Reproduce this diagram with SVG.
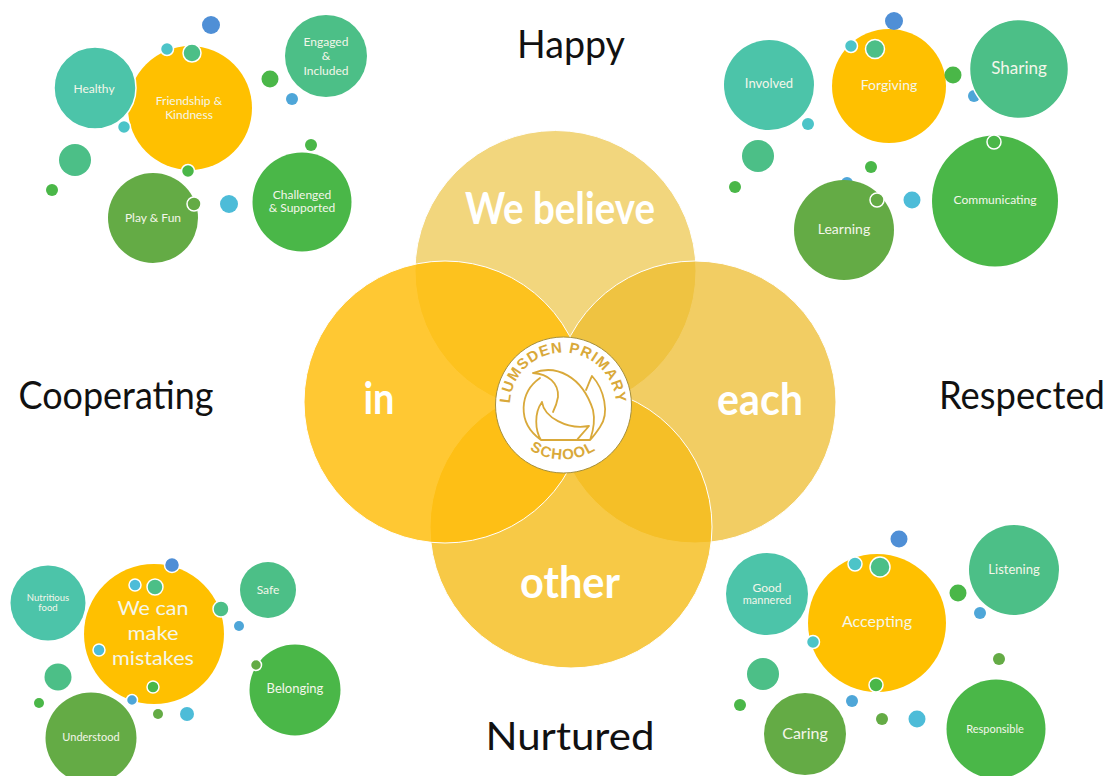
<svg xmlns="http://www.w3.org/2000/svg" xmlns:xlink="http://www.w3.org/1999/xlink" width="1113" height="776" viewBox="0 0 1113 776">
<style>
text{font-family:"Lato","Open Sans","Liberation Sans",sans-serif;text-anchor:middle}
.title{font-size:38px;fill:#111}
.big{font-size:44px;font-weight:700;fill:#fff}
.l{fill:#f4f6ea}
.s11{font-size:11px}.s12{font-size:12px}.s13{font-size:13px}.s14{font-size:14px}.s16{font-size:16px}.s17{font-size:17px}.s20{font-size:20px}
.w{stroke:#fff;stroke-width:1.5}
.or{fill:#ffc000}.t1{fill:#4cc4a9}.t2{fill:#4cbf87}.gr{fill:#4ab748}.ol{fill:#64ab45}.bl{fill:#4f8fd6}.b2{fill:#4ea6d8}.cy{fill:#4dbcd8}.c2{fill:#4cc4c8}
.v{stroke:#fff;stroke-width:1}
.logo{fill:none;stroke:#d9a93a;stroke-width:1.8;stroke-linejoin:round;stroke-linecap:round}
.lt{font-family:"Liberation Sans",Arial,sans-serif;font-size:15px;font-weight:700;fill:#d9a93a;letter-spacing:1px}
</style>
<defs>
<path id="arcTop" d="M512 420A53 53 0 1 1 614 420"/>
<path id="arcBot" d="M515 436A61 61 0 0 0 611 436"/>
</defs>
<rect width="1113" height="776" fill="#fff"/>

<g id="venn">
<circle id="v-top" class="v" cx="555.500" cy="271" r="140.500" fill="#ecc23f" fill-opacity=".68"/>
<circle id="v-right" class="v" cx="695" cy="402" r="141" fill="#eebc2c" fill-opacity=".74"/>
<circle id="v-bottom" class="v" cx="571" cy="527" r="141" fill="#f5bb18" fill-opacity=".8"/>
<circle id="v-left" class="v" cx="445" cy="402" r="141" fill="#ffbe0c" fill-opacity=".84"/>
<text class="big" x="560" y="224" textLength="190" lengthAdjust="spacingAndGlyphs">We believe</text>
<text class="big" x="379" y="414" textLength="31" lengthAdjust="spacingAndGlyphs">in</text>
<text class="big" x="760" y="415" textLength="86" lengthAdjust="spacingAndGlyphs">each</text>
<text class="big" x="570" y="598" textLength="100" lengthAdjust="spacingAndGlyphs">other</text>
</g>

<g id="logo">
<circle cx="563.500" cy="405" r="68" fill="#fff" stroke="#a58f3d" stroke-width="1"/>
<path class="logo" d="M533 373C556 364 582 376 593 410C596 424 592 434 590 440M533 373C548 374 559 383 558 397C557 403 555 408 553 412M540 378C520 392 516 422 541 440M542 402C534 413 535 430 541 440M542 402C544 417 567 430 589 426C584 432 580 436 577 440M541 440H590M592 376C589 382 588 386 586 390M592 376C604 389 610 413 600 427C596 433 593 437 590 440"/>
<text class="lt"><textPath xlink:href="#arcTop" href="#arcTop" startOffset="50%">LUMSDEN  PRIMARY</textPath></text>
<text class="lt"><textPath xlink:href="#arcBot" href="#arcBot" startOffset="50%">SCHOOL</textPath></text>
</g>

<g id="titles">
<text class="title" x="571" y="58" textLength="108" lengthAdjust="spacingAndGlyphs">Happy</text>
<text class="title" x="116" y="409" textLength="195" lengthAdjust="spacingAndGlyphs">Cooperating</text>
<text class="title" x="1022" y="409" textLength="166" lengthAdjust="spacingAndGlyphs">Respected</text>
<text class="title" x="570" y="750" textLength="169" lengthAdjust="spacingAndGlyphs">Nurtured</text>
</g>

<g id="cluster-top-left">
<circle class="or" cx="190" cy="108" r="62"/>
<circle class="t1 w" cx="95" cy="88" r="41"/>
<circle class="t2" cx="326" cy="56" r="41"/>
<circle class="gr" cx="302" cy="202" r="49.500"/>
<circle class="ol" cx="153" cy="218" r="45"/>
<circle class="bl" cx="211" cy="25" r="9"/>
<circle class="c2 w" cx="167" cy="49" r="6.500"/>
<circle class="t2 w" cx="192" cy="53" r="9"/>
<circle class="gr" cx="270" cy="79" r="8.500"/>
<circle class="b2" cx="292" cy="99" r="6"/>
<circle class="gr" cx="311" cy="145" r="6"/>
<circle class="c2 w" cx="124" cy="127" r="6.500"/>
<circle class="t2" cx="75" cy="160" r="16"/>
<circle class="gr" cx="52" cy="190" r="6"/>
<circle class="ol w" cx="194" cy="204" r="7"/>
<circle class="gr w" cx="188" cy="171" r="6.500"/>
<circle class="cy" cx="229" cy="204" r="9"/>
<text class="l s12" x="189" y="105">Friendship &amp;</text>
<text class="l s12" x="189" y="119">Kindness</text>
<text class="l s12" x="94" y="93">Healthy</text>
<text class="l s12" x="326" y="46">Engaged</text>
<text class="l s12" x="326" y="60">&amp;</text>
<text class="l s12" x="326" y="75">Included</text>
<text class="l s12" x="302" y="199">Challenged</text>
<text class="l s12" x="302" y="212">&amp; Supported</text>
<text class="l s12" x="153" y="222">Play &amp; Fun</text>
</g>

<g id="cluster-top-right">
<circle class="b2" cx="974" cy="96" r="6"/>
<circle class="b2" cx="847" cy="183" r="6"/>
<circle class="or" cx="889" cy="86" r="57"/>
<circle class="t1" cx="769" cy="85" r="45"/>
<circle class="t2 w" cx="1019" cy="69" r="49.500"/>
<ellipse class="gr" cx="995" cy="201" rx="63" ry="65.500"/>
<circle class="ol" cx="844" cy="230" r="50"/>
<circle class="bl" cx="894" cy="21" r="9"/>
<circle class="c2 w" cx="851" cy="46" r="6.500"/>
<circle class="t2 w" cx="875" cy="49" r="9.500"/>
<circle class="gr" cx="953" cy="75" r="8.500"/>
<circle class="c2" cx="808" cy="124" r="6"/>
<circle class="t2" cx="758" cy="156" r="16"/>
<circle class="gr" cx="735" cy="187" r="6"/>
<circle class="gr" cx="871" cy="167" r="6"/>
<circle class="ol w" cx="877" cy="200" r="7"/>
<circle class="cy" cx="912" cy="200" r="8.500"/>
<circle class="gr w" cx="994" cy="142" r="7"/>
<text class="l s14" x="889" y="90">Forgiving</text>
<text class="l s13" x="769" y="88">Involved</text>
<text class="l s17" x="1019" y="74">Sharing</text>
<text class="l s11" x="995" y="204" textLength="83" lengthAdjust="spacingAndGlyphs">Communicating</text>
<text class="l s14" x="844" y="234">Learning</text>
</g>

<g id="cluster-bottom-left">
<circle class="or" cx="154" cy="634" r="70"/>
<circle class="t1" cx="48" cy="603" r="37.500"/>
<circle class="t2" cx="268" cy="590" r="28"/>
<circle class="gr" cx="295" cy="690" r="45.500"/>
<circle class="ol" cx="91" cy="738" r="45.500"/>
<circle class="bl w" cx="172" cy="565" r="7.500"/>
<circle class="cy w" cx="135" cy="585" r="6"/>
<circle class="t2 w" cx="155" cy="587" r="8"/>
<circle class="t2 w" cx="221" cy="609" r="8"/>
<circle class="b2" cx="239" cy="626" r="5"/>
<circle class="ol w" cx="256" cy="665" r="5.500"/>
<circle class="cy w" cx="99" cy="650" r="6"/>
<circle class="gr w" cx="153" cy="687" r="6"/>
<circle class="b2 w" cx="132" cy="700" r="5.500"/>
<circle class="ol" cx="158" cy="714" r="5"/>
<circle class="cy" cx="187" cy="714" r="7"/>
<circle class="t2" cx="58" cy="677" r="13.500"/>
<circle class="gr" cx="39" cy="703" r="5"/>
<text class="l s20" x="153" y="615" textLength="71" lengthAdjust="spacingAndGlyphs">We can</text>
<text class="l s20" x="153" y="640" textLength="51" lengthAdjust="spacingAndGlyphs">make</text>
<text class="l s20" x="153" y="665" textLength="82" lengthAdjust="spacingAndGlyphs">mistakes</text>
<text class="l" style="font-size:9.500px" x="48" y="601">Nutritious</text>
<text class="l" style="font-size:9.500px" x="48" y="611">food</text>
<text class="l s12" x="268" y="594">Safe</text>
<text class="l s13" x="295" y="693">Belonging</text>
<text class="l s11" x="91" y="741">Understood</text>
</g>

<g id="cluster-bottom-right">
<circle class="or" cx="877" cy="623" r="69"/>
<circle class="t1" cx="767" cy="594" r="41"/>
<circle class="t2" cx="1014" cy="570" r="45"/>
<circle class="ol" cx="805" cy="734" r="41"/>
<circle class="gr" cx="996" cy="729" r="49.500"/>
<circle class="bl" cx="899" cy="539" r="8.500"/>
<circle class="c2 w" cx="855" cy="564" r="7"/>
<circle class="t2 w" cx="880" cy="567" r="10"/>
<circle class="gr" cx="958" cy="593" r="8.500"/>
<circle class="b2" cx="980" cy="613" r="6"/>
<circle class="c2 w" cx="813" cy="642" r="6.500"/>
<circle class="gr w" cx="876" cy="685" r="7"/>
<circle class="t2" cx="763" cy="674" r="16"/>
<circle class="gr" cx="740" cy="705" r="6"/>
<circle class="b2" cx="852" cy="701" r="6"/>
<circle class="ol" cx="882" cy="719" r="6"/>
<circle class="cy" cx="917" cy="719" r="8.500"/>
<circle class="ol" cx="999" cy="659" r="6"/>
<text class="l s16" x="877" y="627">Accepting</text>
<text class="l s12" x="767" y="592">Good</text>
<text class="l s11" x="767" y="604">mannered</text>
<text class="l s13" x="1014" y="574">Listening</text>
<text class="l s16" x="805" y="739">Caring</text>
<text class="l s11" x="995" y="733">Responsible</text>
</g>
</svg>
